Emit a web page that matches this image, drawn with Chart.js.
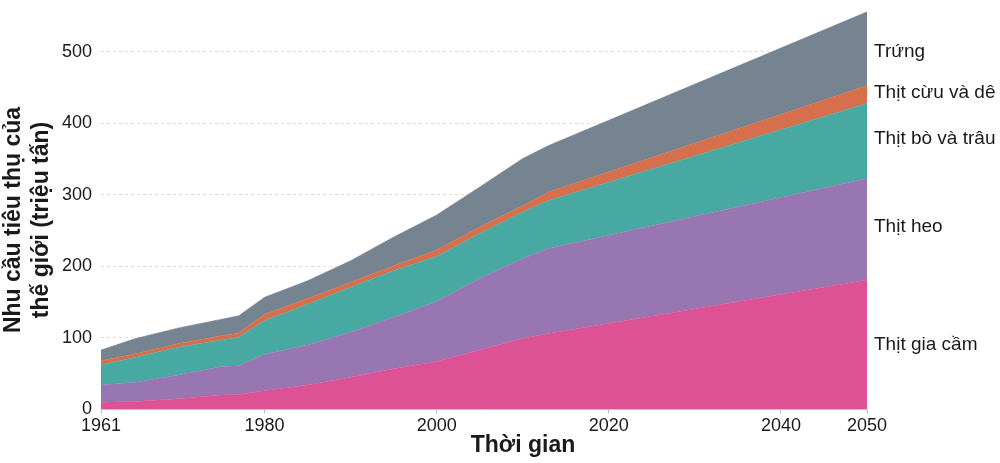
<!DOCTYPE html>
<html>
<head>
<meta charset="utf-8">
<script src="https://cdn.jsdelivr.net/npm/chart.js@4.4.0/dist/chart.umd.min.js"></script>
<style>
  html, body { margin: 0; padding: 0; background: #fff; }
  #wrap { width: 1000px; height: 463px; }
</style>
</head>
<body>
<div id="wrap"><canvas id="myChart" width="1000" height="463"></canvas></div>
<script>
// years (annual history, then projection to 2050)
const years = [1961, 1965, 1970, 1975, 1977, 1980, 1985, 1990, 1995, 2000, 2005, 2010, 2013, 2050];

// million tonnes per category (not cumulative)
const poultry = [10, 11, 15, 20, 21, 26, 34, 45, 57, 67, 83, 99, 106, 181];
const pork    = [24, 27, 33, 40, 40, 51, 56, 63, 72, 84, 100, 112, 119, 142];
const beef    = [28, 35, 39, 37, 40, 47, 57, 63, 65, 63, 63, 65, 67, 105];
const mutton  = [6, 5, 5, 6, 6, 9, 8, 7, 7, 9, 9, 9, 12, 25];
const eggs    = [15, 21, 22, 23, 24, 24, 25, 30, 40, 49, 56, 66, 65, 103];

const seriesNames = ['Thịt gia cầm', 'Thịt heo', 'Thịt bò và trâu', 'Thịt cừu và dê', 'Trứng'];
const seriesColors = ['#dc5294', '#9876b2', '#48a8a2', '#d56f4c', '#768391'];
const xTicks = [1961, 1980, 2000, 2020, 2040, 2050];
const yTicks = [0, 100, 200, 300, 400, 500];
const yTitle = ['Nhu cầu tiêu thụ của', 'thế giới (triệu tấn)'];

const allSeries = [poultry, pork, beef, mutton, eggs];

const ctx = document.getElementById('myChart').getContext('2d');
const FONT = '"Liberation Sans", Arial, sans-serif';

const datasets = allSeries.map(function (vals, i) {
    return {
        label: seriesNames[i],
        data: vals.map(function (v, j) { return { x: years[j], y: v }; }),
        backgroundColor: seriesColors[i],
        borderColor: seriesColors[i],
        borderWidth: 0.5,
        pointRadius: 0,
        fill: i === 0 ? 'origin' : '-1',
        tension: 0
    };
});

// labels on the right of the plot, y given in data units; plus axis titles
const sideLabels = {
    id: 'sideLabels',
    afterDraw(chart) {
        const c = chart.ctx;
        const xs = chart.scales.x, ys = chart.scales.y;
        const at = [90, 255, 378, 443, 500];
        c.save();
        c.font = '19px ' + FONT;
        c.fillStyle = '#1a1a1a';
        c.textBaseline = 'middle';
        c.textAlign = 'left';
        seriesNames.forEach(function (name, i) {
            c.fillText(name, xs.right + 7, ys.getPixelForValue(at[i]));
        });
        // x axis title
        c.font = 'bold 23px ' + FONT;
        c.textAlign = 'center';
        c.fillText('Thời gian', 523, 446);
        // y axis title, two lines
        c.translate(0, 220);
        c.rotate(-Math.PI / 2);
        c.fillText(yTitle[0], 0, 14);
        c.fillText(yTitle[1], 0, 42);
        c.restore();
    }
};

const graphData = {
    type: 'line',
    data: { datasets: datasets },
    options: {
        responsive: false,
        animation: false,
        layout: { padding: { top: 9, right: 133, bottom: 24, left: 0 } },
        plugins: {
            legend: { display: false },
            tooltip: { enabled: false }
        },
        scales: {
            x: {
                type: 'linear',
                min: 1961,
                max: 2050,
                afterBuildTicks: function (axis) { axis.ticks = xTicks.map(function (v) { return { value: v }; }); },
                ticks: {
                    color: '#1a1a1a',
                    font: { size: 18, family: FONT },
                    padding: 2,
                    maxRotation: 0,
                    callback: function (v) { return String(v); }
                },
                grid: { drawOnChartArea: false, drawTicks: true, tickLength: 4, color: '#bbbbbb' },
                border: { display: true, color: '#cccccc' }
            },
            y: {
                stacked: true,
                min: 0,
                max: 560,
                afterBuildTicks: function (axis) { axis.ticks = yTicks.map(function (v) { return { value: v }; }); },
                afterFit: function (axis) {
                    axis.width = 101;
                    axis.paddingTop = 0;
                    axis.paddingBottom = 0;
                },
                ticks: {
                    color: '#1a1a1a',
                    font: { size: 18, family: FONT },
                    padding: 9
                },
                grid: {
                    drawTicks: false,
                    color: function (c) { return c.tick && c.tick.value === 0 ? 'rgba(0,0,0,0)' : '#dddddd'; },
                    lineWidth: 1
                },
                border: { display: false, dash: [3, 3] }
            }
        }
    },
    plugins: [sideLabels]
};

const myChart = new Chart(ctx, graphData);
</script>
</body>
</html>
